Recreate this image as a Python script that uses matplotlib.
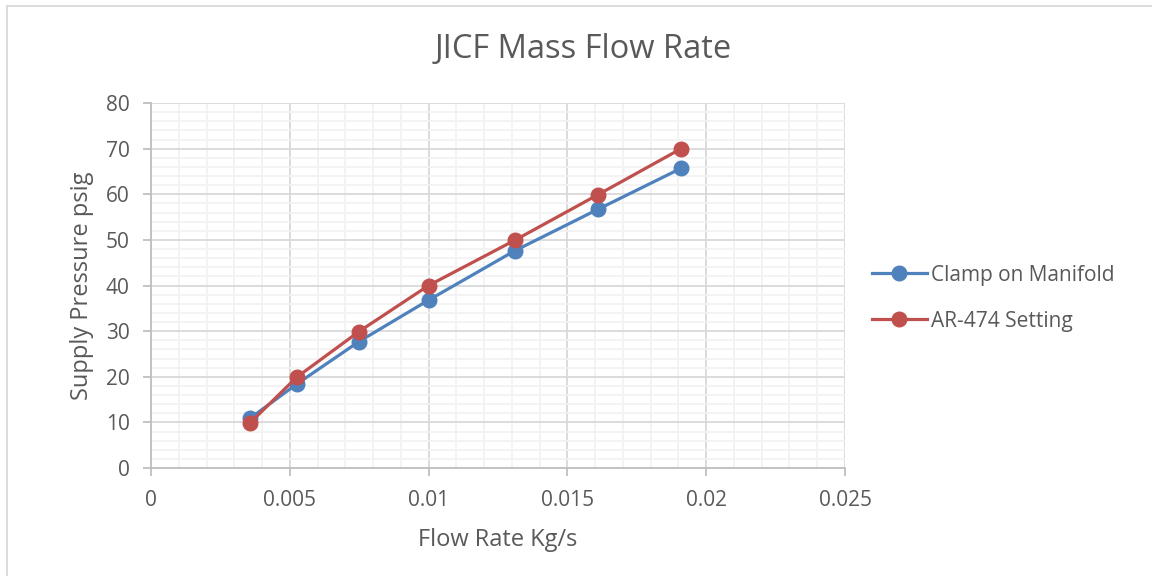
import numpy as np
import matplotlib.pyplot as plt
from matplotlib.lines import Line2D
from matplotlib.ticker import MultipleLocator

plt.rcParams['font.family'] = ['Open Sans', 'DejaVu Sans']

# data
flow_rate = [0.00357, 0.00525, 0.00749, 0.0100, 0.0131, 0.0161, 0.0191]
clamp_on_manifold = [10.9, 18.4, 27.7, 36.8, 47.6, 56.7, 65.7]
ar474_setting = [9.9, 19.9, 29.9, 40.0, 49.9, 59.9, 70.0]

txt = "#595959"
blue = "#4f81bd"
red = "#c0504d"

fig = plt.figure(figsize=(11.52, 5.76), dpi=100)
ax = fig.add_axes([151 / 1152, 1 - 468 / 576, 694 / 1152, 365 / 576])

ax.plot(flow_rate, clamp_on_manifold, color=blue, lw=2.3, marker="o", ms=10.5,
        label="Clamp on Manifold", zorder=3)
ax.plot(flow_rate, ar474_setting, color=red, lw=2.3, marker="o", ms=10.5,
        label="AR-474 Setting", zorder=4)

ax.set_xlim(0, 0.025)
ax.set_ylim(0, 80)
ax.xaxis.set_major_locator(MultipleLocator(0.005))
ax.xaxis.set_minor_locator(MultipleLocator(0.001))
ax.yaxis.set_major_locator(MultipleLocator(10))
ax.yaxis.set_minor_locator(MultipleLocator(2))
ax.set_xticks([0, 0.005, 0.01, 0.015, 0.02, 0.025])
ax.set_xticklabels(["0", "0.005", "0.01", "0.015", "0.02", "0.025"])

ax.grid(which="major", color="#d9d9d9", lw=1.3, zorder=0)
ax.grid(which="minor", color="#f2f2f2", lw=1.3, zorder=0)
ax.set_axisbelow(True)

for s in ["top", "right"]:
    ax.spines[s].set_visible(False)
for s in ["left", "bottom"]:
    ax.spines[s].set_color("#bfbfbf")
    ax.spines[s].set_linewidth(1.3)

ax.tick_params(which="major", length=5.5, width=1.3, color="#bfbfbf",
               labelsize=15, labelcolor=txt)
ax.tick_params(axis="x", pad=10)
ax.tick_params(axis="y", pad=10)
ax.tick_params(which="minor", length=0)

ax.set_xlabel("Flow Rate Kg/s", fontsize=17, color=txt, va="center")
ax.xaxis.set_label_coords(0.5, (468 - 540) / 365)
ax.set_ylabel("Supply Pressure psig", fontsize=17, color=txt, va="center")
ax.yaxis.set_label_coords((82 - 151) / 694, 0.5)
fig.text(583 / 1152, 1 - 50 / 576, "JICF Mass Flow Rate", fontsize=23.5,
         color=txt, ha="center", va="center")

leg = fig.legend(loc="center left", bbox_to_anchor=(853 / 1152, 1 - 298 / 576),
                 frameon=False, fontsize=15, labelcolor=txt, handlelength=2.65,
                 handletextpad=0.2, labelspacing=1.2)

# chart area border (left and top edges visible)
fig.add_artist(Line2D([7 / 1152, 7 / 1152], [0, 1 - 6 / 576], color="#d9d9d9", lw=1.3))
fig.add_artist(Line2D([7 / 1152, 1], [1 - 6 / 576, 1 - 6 / 576], color="#d9d9d9", lw=1.3))

fig.savefig("out.png", dpi=100)
